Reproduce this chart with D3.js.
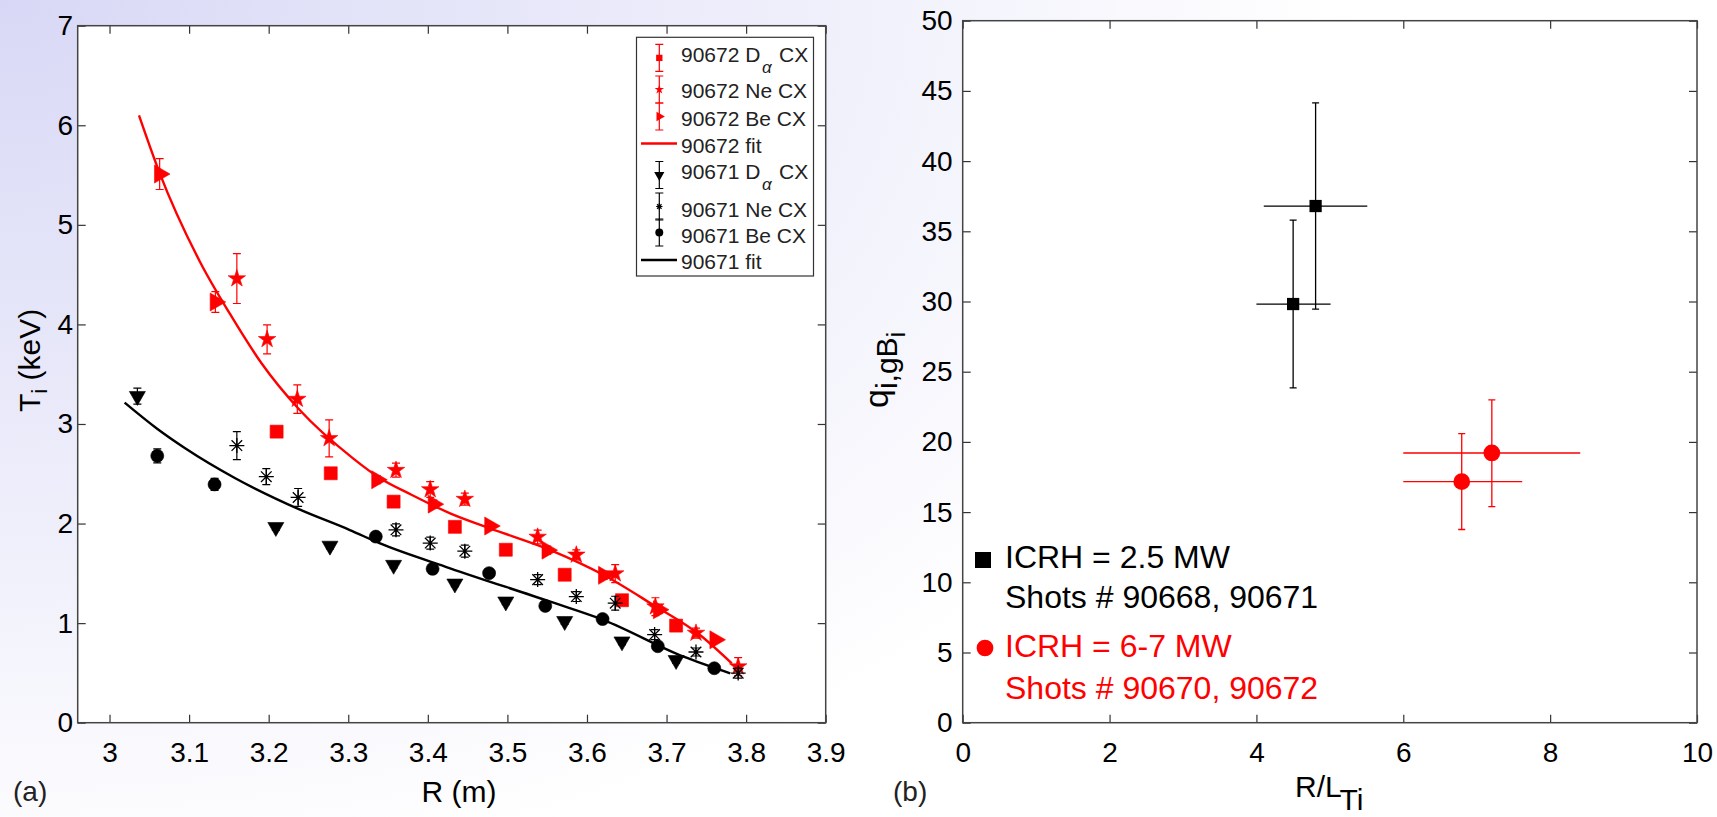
<!DOCTYPE html>
<html><head><meta charset="utf-8">
<script src="https://cdn.jsdelivr.net/npm/d3@7"></script>
<style>body{margin:0;background:#fff;overflow:hidden}svg text{font-family:"Liberation Sans",Arial,sans-serif}</style>
</head><body><svg id="c" width="1717" height="817"></svg>
<script>
// ---------- Panel (a) data: R (m), Ti (keV), error ----------
const redDaR = [3.210, 3.278, 3.357, 3.434, 3.498, 3.572, 3.644, 3.712];
const redDaT = [2.923, 2.505, 2.220, 1.967, 1.737, 1.486, 1.230, 0.975];
const redDaE = [0.03, 0.03, 0.03, 0.03, 0.03, 0.03, 0.03, 0.03];

const redNeR = [3.160, 3.198, 3.236, 3.276, 3.360, 3.403, 3.4465, 3.538, 3.5866, 3.6355, 3.686, 3.737, 3.790];
const redNeT = [4.46, 3.85, 3.25, 2.855, 2.536, 2.342, 2.245, 1.865, 1.685, 1.497, 1.165, 0.90, 0.563];
const redNeE = [0.25, 0.145, 0.143, 0.186, 0.07, 0.08, 0.06, 0.07, 0.05, 0.09, 0.09, 0.05, 0.09];

const redBeR = [3.063, 3.133, 3.336, 3.407, 3.478, 3.550, 3.621, 3.690, 3.761];
const redBeT = [5.51, 4.225, 2.44, 2.195, 1.975, 1.733, 1.48, 1.135, 0.833];
const redBeE = [0.155, 0.105, 0.04, 0.04, 0.03, 0.04, 0.04, 0.04, 0.03];

const redFitR = [3.037, 3.063, 3.1136, 3.151, 3.191, 3.239, 3.306, 3.340, 3.380, 3.428, 3.478, 3.554, 3.621, 3.680, 3.742, 3.782];
const redFitT = [6.10, 5.52, 4.63, 4.11, 3.61, 3.14, 2.655, 2.455, 2.287, 2.103, 1.952, 1.734, 1.483, 1.199, 0.881, 0.596];

const blkDaR = [3.035, 3.209, 3.277, 3.357, 3.434, 3.498, 3.572, 3.644, 3.712];
const blkDaT = [3.28, 1.964, 1.776, 1.584, 1.396, 1.216, 1.020, 0.815, 0.628];
const blkDaE = [0.08, 0.03, 0.03, 0.03, 0.03, 0.03, 0.03, 0.03, 0.03];

const blkNeR = [3.160, 3.197, 3.237, 3.360, 3.403, 3.4465, 3.538, 3.5866, 3.6355, 3.685, 3.737, 3.790];
const blkNeT = [2.783, 2.471, 2.262, 1.937, 1.804, 1.723, 1.437, 1.267, 1.200, 0.885, 0.710, 0.498];
const blkNeE = [0.14, 0.08, 0.09, 0.06, 0.06, 0.06, 0.05, 0.05, 0.07, 0.05, 0.04, 0.05];

const blkBeR = [3.060, 3.132, 3.3346, 3.406, 3.477, 3.5476, 3.6196, 3.689, 3.760];
const blkBeT = [2.68, 2.393, 1.869, 1.545, 1.502, 1.173, 1.041, 0.768, 0.547];
const blkBeE = [0.07, 0.06, 0.03, 0.03, 0.03, 0.03, 0.03, 0.03, 0.03];

const blkFitR = [3.019, 3.059, 3.095, 3.158, 3.2386, 3.302, 3.340, 3.428, 3.554, 3.621, 3.7215, 3.780];
const blkFitT = [3.214, 2.957, 2.756, 2.455, 2.142, 1.935, 1.80, 1.551, 1.215, 1.031, 0.663, 0.496];

const xTicksA = [3, 3.1, 3.2, 3.3, 3.4, 3.5, 3.6, 3.7, 3.8, 3.9];
const yTicksA = [0, 1, 2, 3, 4, 5, 6, 7];
const legendA = ["90672 D|α|CX", "90672 Ne CX", "90672 Be CX", "90672 fit", "90671 D|α|CX", "90671 Ne CX", "90671 Be CX", "90671 fit"];

// ---------- Panel (b) data: R/LTi, q_i,gB ----------
const blkQx = [4.50, 4.806], blkQy = [29.82, 36.80];
const blkQxLo = [4.00, 4.10], blkQxHi = [5.01, 5.51];
const blkQyLo = [23.85, 29.45], blkQyHi = [35.79, 44.14];
const redQx = [6.796, 7.206], redQy = [17.17, 19.21];
const redQxLo = [6.00, 6.00], redQxHi = [7.62, 8.41];
const redQyLo = [13.76, 15.39], redQyHi = [20.59, 23.00];
const xTicksB = [0, 2, 4, 6, 8, 10];
const yTicksB = [0, 5, 10, 15, 20, 25, 30, 35, 40, 45, 50];
const legendB = [["ICRH = 2.5 MW", "Shots # 90668, 90671"], ["ICRH = 6-7 MW", "Shots # 90670, 90672"]];

const RED = "#ff0000", BLK = "#000000";
const svg = d3.select("#c");

// background gradient
const defs = svg.append("defs");
const rg = defs.append("radialGradient").attr("id", "bg").attr("gradientUnits", "userSpaceOnUse")
  .attr("cx", 0).attr("cy", 0).attr("r", 1).attr("gradientTransform", "scale(1350,900)");
rg.append("stop").attr("offset", 0).attr("stop-color", "#d8d8f6");
rg.append("stop").attr("offset", 1).attr("stop-color", "#ffffff");
svg.append("rect").attr("width", 1717).attr("height", 817).attr("fill", "url(#bg)");

const xA = d3.scaleLinear([2.96, 3.9], [77.7, 825.7]);
const yA = d3.scaleLinear([0, 7], [722.7, 25.7]);
const xB = d3.scaleLinear([0, 10], [962.7, 1697]);
const yB = d3.scaleLinear([0, 50], [722.7, 20.7]);

function frame(x, y, xt, yt, padY) {
  const [x0, x1] = x.range(), [y0, y1] = y.range();
  const g = svg.append("g");
  g.append("rect").attr("x", x0).attr("y", y1).attr("width", x1 - x0).attr("height", y0 - y1).attr("fill", "#fff");
  const style = s => { s.select(".domain").remove(); s.selectAll("line").attr("stroke", "#333").attr("stroke-width", 1.2);
    s.selectAll("text").attr("font-size", 28).attr("fill", "#000").attr("font-family", '"Liberation Sans",Arial,sans-serif'); };
  g.append("g").attr("transform", `translate(0,${y0})`).call(d3.axisBottom(x).tickValues(xt).tickSize(-8).tickPadding(19).tickFormat(d3.format("~g"))).call(style);
  g.append("g").attr("transform", `translate(0,${y1})`).call(d3.axisTop(x).tickValues(xt).tickSize(-8).tickFormat("")).call(style);
  g.append("g").attr("transform", `translate(${x0},0)`).call(d3.axisLeft(y).tickValues(yt).tickSize(-8).tickPadding(padY).tickFormat(d3.format("~g"))).call(style);
  g.append("g").attr("transform", `translate(${x1},0)`).call(d3.axisRight(y).tickValues(yt).tickSize(-8).tickFormat("")).call(style);
  g.append("rect").attr("x", x0).attr("y", y1).attr("width", x1 - x0).attr("height", y0 - y1)
    .attr("fill", "none").attr("stroke", "#444").attr("stroke-width", 1.5);
  return g;
}

frame(xA, yA, xTicksA, yTicksA, 4.5);
frame(xB, yB, xTicksB, yTicksB, 10);

// custom asterisk (MATLAB '*')
const symAst = { draw(ctx, size) { const r = Math.sqrt(size) / 2, d = r * 0.7071;
  ctx.moveTo(-r, 0); ctx.lineTo(r, 0); ctx.moveTo(0, -r); ctx.lineTo(0, r);
  ctx.moveTo(-d, -d); ctx.lineTo(d, d); ctx.moveTo(-d, d); ctx.lineTo(d, -d); } };

function series(R, T, E, color, type, size, rot, stroke) {
  const g = svg.append("g");
  const data = R.map((r, i) => ({ r, t: T[i], e: E[i] }));
  const cap = 4;
  g.selectAll("path.eb").data(data).join("path").attr("class", "eb")
    .attr("d", d => { const x = xA(d.r), ya = yA(d.t - d.e), yb = yA(d.t + d.e);
      return `M${x},${ya}V${yb}M${x - cap},${ya}H${x + cap}M${x - cap},${yb}H${x + cap}`; })
    .attr("stroke", color).attr("stroke-width", 1.2).attr("fill", "none");
  g.selectAll("path.mk").data(data).join("path").attr("class", "mk")
    .attr("d", d3.symbol().type(type).size(size))
    .attr("transform", d => `translate(${xA(d.r)},${yA(d.t)}) rotate(${rot})`)
    .attr("fill", stroke ? "none" : color).attr("stroke", color).attr("stroke-width", stroke ? 1.3 : 0.6);
}
function fitLine(R, T, color) {
  svg.append("path").datum(R.map((r, i) => [r, T[i]]))
    .attr("d", d3.line().curve(d3.curveMonotoneX).x(d => xA(d[0])).y(d => yA(d[1])))
    .attr("fill", "none").attr("stroke", color).attr("stroke-width", 2.4).attr("stroke-linejoin", "round");
}

fitLine(redFitR, redFitT, RED);
series(redDaR, redDaT, redDaE, RED, d3.symbolSquare, 169, 0, false);
series(redNeR, redNeT, redNeE, RED, d3.symbolStar, 95, 0, false);
series(redBeR, redBeT, redBeE, RED, d3.symbolTriangle, 140, 90, false);
fitLine(blkFitR, blkFitT, BLK);
series(blkDaR, blkDaT, blkDaE, BLK, d3.symbolTriangle, 112, 180, false);
series(blkNeR, blkNeT, blkNeE, BLK, symAst, 225, 0, true);
series(blkBeR, blkBeT, blkBeE, BLK, d3.symbolCircle, 133, 0, false);

// legend (a)
const lg = svg.append("g");
lg.append("rect").attr("x", 636.5).attr("y", 37.3).attr("width", 177).attr("height", 238.7)
  .attr("fill", "#fff").attr("stroke", "#333").attr("stroke-width", 1.2);
const lgBase = [61.7, 98.3, 126, 152.7, 179.3, 216.7, 242.7, 269.3];
const lgMk = [
  { c: RED, t: d3.symbolSquare, s: 40, r: 0, y: 57.9, st: false },
  { c: RED, t: d3.symbolStar, s: 28, r: 0, y: 89.5, st: false },
  { c: RED, t: d3.symbolTriangle, s: 40, r: 90, y: 116.5, st: false },
  { c: RED, line: true, y: 143.5 },
  { c: BLK, t: d3.symbolTriangle, s: 45, r: 180, y: 175, st: false },
  { c: BLK, t: symAst, s: 40, r: 0, y: 206.5, st: true },
  { c: BLK, t: d3.symbolCircle, s: 50, r: 0, y: 232.5, st: false },
  { c: BLK, line: true, y: 260 }];
lgMk.forEach((m, i) => {
  if (m.line) {
    lg.append("line").attr("x1", 641).attr("x2", 677).attr("y1", m.y).attr("y2", m.y).attr("stroke", m.c).attr("stroke-width", 2.4);
  } else {
    const x = 659.3, a = m.y - 13.5, b = m.y + 13.5;
    lg.append("path").attr("d", `M${x},${a}V${b}M${x - 4},${a}H${x + 4}M${x - 4},${b}H${x + 4}`).attr("stroke", m.c).attr("stroke-width", 1.2).attr("fill", "none");
    lg.append("path").attr("d", d3.symbol().type(m.t).size(m.s)).attr("transform", `translate(${x},${m.y}) rotate(${m.r})`)
      .attr("fill", m.st ? "none" : m.c).attr("stroke", m.c).attr("stroke-width", m.st ? 1.2 : 0);
  }
  const parts = legendA[i].split("|");
  if (parts.length === 3) {
    lg.append("text").attr("x", 681).attr("y", lgBase[i]).attr("font-size", 21).attr("fill", "#222").text(parts[0]);
    lg.append("text").attr("x", 762).attr("y", lgBase[i] + 11).attr("font-size", 17).attr("font-style", "italic")
      .attr("font-family", '"Liberation Serif",serif').attr("fill", "#222").text(parts[1]);
    lg.append("text").attr("x", 779).attr("y", lgBase[i]).attr("font-size", 21).attr("fill", "#222").text(parts[2]);
  } else {
    lg.append("text").attr("x", 681).attr("y", lgBase[i]).attr("font-size", 21).attr("fill", "#222").text(parts[0]);
  }
});

// axis labels (a)
svg.append("text").attr("x", 459).attr("y", 802).attr("text-anchor", "middle").attr("font-size", 30).text("R (m)");
svg.append("text").attr("x", 13).attr("y", 801).attr("font-size", 28).attr("fill", "#222").text("(a)");
const yl = svg.append("text").attr("transform", "translate(40,412) rotate(-90)").attr("font-size", 30);
yl.append("tspan").text("T");
yl.append("tspan").attr("dy", 7).attr("font-size", 22).text("i");
yl.append("tspan").attr("dy", -7).text(" (keV)");

// panel (b) points
function errB(x, y, xlo, xhi, ylo, yhi, color) {
  const g = svg.append("g");
  const d = x.map((v, i) => ({ x: v, y: y[i], xl: xlo[i], xh: xhi[i], yl: ylo[i], yh: yhi[i] }));
  g.selectAll("path").data(d).join("path")
    .attr("d", p => { const X = xB(p.x), Y = yB(p.y), a = yB(p.yl), b = yB(p.yh), c = 3.5;
      return `M${X},${a}V${b}M${X - c},${a}H${X + c}M${X - c},${b}H${X + c}M${xB(p.xl)},${Y}H${xB(p.xh)}`; })
    .attr("stroke", color).attr("stroke-width", 1.3).attr("fill", "none");
  return { g, d };
}
const eb1 = errB(blkQx, blkQy, blkQxLo, blkQxHi, blkQyLo, blkQyHi, BLK);
eb1.g.selectAll("path.mk").data(eb1.d).join("path").attr("class", "mk")
  .attr("d", d3.symbol().type(d3.symbolSquare).size(150)).attr("transform", p => `translate(${xB(p.x)},${yB(p.y)})`).attr("fill", BLK);
const eb2 = errB(redQx, redQy, redQxLo, redQxHi, redQyLo, redQyHi, RED);
eb2.g.selectAll("path.mk").data(eb2.d).join("path").attr("class", "mk")
  .attr("d", d3.symbol().type(d3.symbolCircle).size(220)).attr("transform", p => `translate(${xB(p.x)},${yB(p.y)})`).attr("fill", RED);

// legend (b)
svg.append("path").attr("d", d3.symbol().type(d3.symbolSquare).size(256)).attr("transform", "translate(983,560)").attr("fill", BLK);
svg.append("path").attr("d", d3.symbol().type(d3.symbolCircle).size(220)).attr("transform", "translate(985,648)").attr("fill", RED);
const lbY = [[567.6, 608.2], [657, 698.5]];
legendB.forEach((pair, i) => pair.forEach((t, j) =>
  svg.append("text").attr("x", 1005).attr("y", lbY[i][j]).attr("font-size", 32).attr("fill", i ? RED : BLK).text(t)));

// axis labels (b)
svg.append("text").attr("x", 893).attr("y", 801).attr("font-size", 28).attr("fill", "#222").text("(b)");
const xlb = svg.append("text").attr("x", 1295).attr("y", 797).attr("font-size", 30);
xlb.append("tspan").text("R/L");
xlb.append("tspan").attr("dy", 13).text("Ti");
const ylb = svg.append("text").attr("transform", "translate(888,408) rotate(-90)").attr("font-size", 34);
ylb.append("tspan").text("q");
ylb.append("tspan").attr("dy", 9).attr("font-size", 30).text("i,gB");
ylb.append("tspan").attr("dy", 8).attr("font-size", 26).text("i");
</script></body></html>
